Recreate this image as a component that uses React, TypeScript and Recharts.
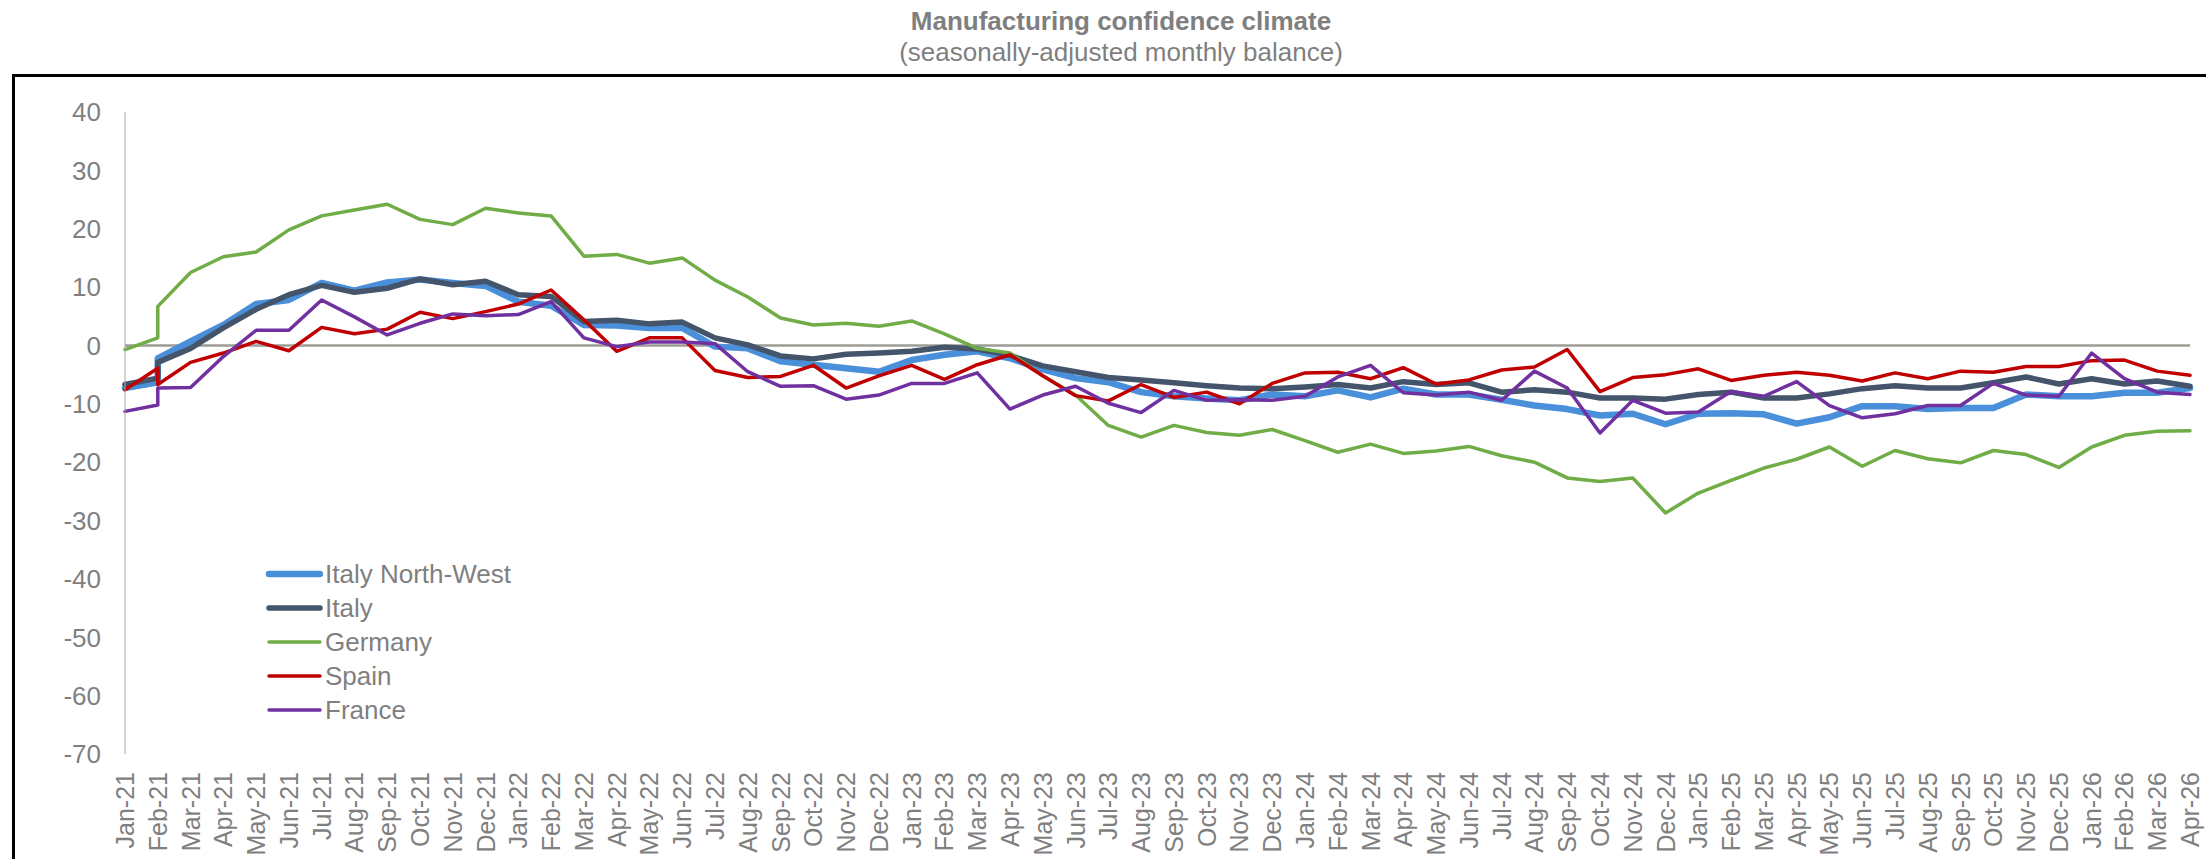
import React from "react";
import { LineChart, Line, XAxis, YAxis, ReferenceLine } from "recharts";

// month labels, Jan-21 .. Apr-26
const months = [
  "Jan-21", "Feb-21", "Mar-21", "Apr-21", "May-21", "Jun-21", "Jul-21", "Aug-21", "Sep-21", "Oct-21", "Nov-21", "Dec-21",
  "Jan-22", "Feb-22", "Mar-22", "Apr-22", "May-22", "Jun-22", "Jul-22", "Aug-22", "Sep-22", "Oct-22", "Nov-22", "Dec-22",
  "Jan-23", "Feb-23", "Mar-23", "Apr-23", "May-23", "Jun-23", "Jul-23", "Aug-23", "Sep-23", "Oct-23", "Nov-23", "Dec-23",
  "Jan-24", "Feb-24", "Mar-24", "Apr-24", "May-24", "Jun-24", "Jul-24", "Aug-24", "Sep-24", "Oct-24", "Nov-24", "Dec-24",
  "Jan-25", "Feb-25", "Mar-25", "Apr-25", "May-25", "Jun-25", "Jul-25", "Aug-25", "Sep-25", "Oct-25", "Nov-25", "Dec-25",
  "Jan-26", "Feb-26", "Mar-26", "Apr-26",
];

const italyNW = [
  -7.3, -2.2, 0.7, 3.5, 7.1, 7.8, 10.7, 9.4, 10.8, 11.3, 10.7, 10.2,
  7.5, 6.8, 3.5, 3.4, 3, 3, -0.2, -0.5, -2.7, -3.3, -3.9, -4.5,
  -2.5, -1.6, -1, -2.2, -4.1, -5.6, -6.3, -8, -8.7, -9.1, -9.4, -8.4,
  -8.7, -7.7, -8.9, -7.4, -8.4, -8.4, -9.3, -10.3, -10.9, -12, -11.7, -13.5,
  -11.7, -11.6, -11.8, -13.4, -12.3, -10.4, -10.4, -10.9, -10.7, -10.7, -8.4, -8.7,
  -8.7, -8.1, -8.1, -7.3,
];

const italy = [
  -6.7, -2.9, -0.5, 3, 6.2, 8.7, 10.3, 9.1, 9.8, 11.4, 10.4, 11,
  8.7, 8.4, 4.1, 4.3, 3.7, 4, 1.3, 0.1, -1.8, -2.3, -1.5, -1.3,
  -1, -0.3, -0.6, -1.7, -3.5, -4.5, -5.5, -5.9, -6.4, -6.9, -7.3, -7.4,
  -7.1, -6.7, -7.3, -6.2, -6.7, -6.4, -8, -7.6, -8, -9, -9, -9.2,
  -8.4, -8, -9, -9, -8.3, -7.4, -6.9, -7.3, -7.3, -6.4, -5.4, -6.6,
  -5.7, -6.6, -6.1, -7,
];

const germany = [
  -0.7, 6.7, 12.5, 15.2, 16, 19.8, 22.2, 23.2, 24.2, 21.6, 20.7, 23.5,
  22.7, 22.2, 15.3, 15.6, 14.1, 15, 11.2, 8.3, 4.7, 3.5, 3.8, 3.3,
  4.2, 2, -0.5, -1.3, -5.2, -8.5, -13.7, -15.7, -13.7, -14.9, -15.4, -14.4,
  -16.3, -18.3, -16.9, -18.5, -18.1, -17.3, -18.9, -20, -22.7, -23.3, -22.7, -28.7,
  -25.3, -23.1, -21, -19.5, -17.4, -20.7, -18, -19.4, -20.1, -18, -18.7, -20.9,
  -17.4, -15.4, -14.7, -14.6,
];

const spain = [
  -7.6, -6.7, -2.9, -1.3, 0.7, -0.9, 3.1, 2, 2.8, 5.7, 4.6, 5.8,
  7.1, 9.5, 4.4, -1, 1.3, 1.3, -4.3, -5.5, -5.3, -3.4, -7.3, -5.2,
  -3.4, -5.8, -3.3, -1.6, -5.2, -8.6, -9.5, -6.7, -8.9, -8, -10, -6.5,
  -4.7, -4.6, -5.7, -3.8, -6.6, -5.9, -4.2, -3.7, -0.7, -7.9, -5.5, -5,
  -4, -6, -5.1, -4.6, -5.1, -6.1, -4.7, -5.7, -4.4, -4.6, -3.6, -3.6,
  -2.6, -2.5, -4.4, -5.1,
];

const france = [
  -11.3, -7.3, -7.2, -1.9, 2.6, 2.6, 7.8, 4.9, 1.8, 3.8, 5.4, 5.1,
  5.3, 7.5, 1.3, -0.2, 0.6, 0.6, 0.3, -4.5, -7, -6.9, -9.2, -8.5,
  -6.5, -6.5, -4.7, -10.9, -8.5, -7, -9.9, -11.5, -7.7, -9.4, -9.3, -9.4,
  -8.7, -5.4, -3.4, -8.1, -8.5, -8, -9.4, -4.4, -7.3, -15, -9.4, -11.6,
  -11.4, -7.9, -8.7, -6.2, -10.3, -12.4, -11.7, -10.3, -10.3, -6.5, -8.5, -8.7,
  -1.3, -5.7, -8, -8.4,
];

// Feb-21 values before the series break (drawn as a vertical step)
const feb21Prior = { nw: -6.3, it: -5.6, de: 1.3, es: -3.9, fr: -10.2 };

const yTicks = [-70, -60, -50, -40, -30, -20, -10, 0, 10, 20, 30, 40];

const series = [
  { key: "nw", name: "Italy North-West", color: "#4a8fd9", width: 6.5 },
  { key: "it", name: "Italy", color: "#44546a", width: 5.5 },
  { key: "de", name: "Germany", color: "#70ad47", width: 3.5 },
  { key: "es", name: "Spain", color: "#c00000", width: 3.5 },
  { key: "fr", name: "France", color: "#7030a0", width: 3.5 },
];

const rows: any[] = months.map((m, i) => ({
  t: i,
  nw: italyNW[i],
  it: italy[i],
  de: germany[i],
  es: spain[i],
  fr: france[i],
}));
rows.splice(1, 0, { t: 1, ...feb21Prior });

const tickIdx = months.map((_, i) => i);

const FONT = "'Liberation Sans', Arial, sans-serif";
const GREY = "#7f7f7f";

function MonthTick(props: any) {
  const { x, y, payload } = props;
  return (
    <text
      x={x}
      y={y}
      transform={`rotate(-90 ${x} ${y})`}
      textAnchor="end"
      dy="0.36em"
      fill={GREY}
      fontSize={25}
      fontFamily={FONT}
    >
      {months[payload.value]}
    </text>
  );
}

function SeriesLegend() {
  return (
    <div
      style={{
        position: "absolute",
        left: 265,
        top: 557,
        fontFamily: FONT,
        fontSize: 26,
        color: GREY,
      }}
    >
      {series.map((s) => (
        <div key={s.key} style={{ display: "flex", alignItems: "center", height: 34 }}>
          <svg width={58} height={34}>
            <line
              x1={4}
              x2={55}
              y1={17}
              y2={17}
              stroke={s.color}
              strokeWidth={s.width}
              strokeLinecap="round"
            />
          </svg>
          <span style={{ marginLeft: 2, lineHeight: "34px" }}>{s.name}</span>
        </div>
      ))}
    </div>
  );
}

export default function App() {
  return (
    <div
      style={{
        position: "absolute",
        left: 0,
        top: 0,
        width: 2206,
        height: 859,
        overflow: "hidden",
        background: "#fff",
        fontFamily: FONT,
      }}
    >
      <div
        style={{
          position: "absolute",
          left: 0,
          top: 6,
          width: 2242,
          textAlign: "center",
          color: GREY,
          fontSize: 26,
          fontWeight: "bold",
          lineHeight: "30px",
        }}
      >
        Manufacturing confidence climate
      </div>
      <div
        style={{
          position: "absolute",
          left: 0,
          top: 37,
          width: 2242,
          textAlign: "center",
          color: GREY,
          fontSize: 26,
          lineHeight: "30px",
        }}
      >
        (seasonally-adjusted monthly balance)
      </div>
      <div
        style={{
          position: "absolute",
          left: 12,
          top: 74,
          width: 2400,
          height: 1000,
          border: "3px solid #000",
        }}
      />
      <div style={{ position: "absolute", left: 0, top: 0 }}>
        <LineChart
          width={2206}
          height={859}
          data={rows}
          margin={{ top: 112, right: 16, bottom: 0, left: 0 }}
        >
          <XAxis
            dataKey="t"
            type="number"
            domain={[0, 63]}
            ticks={tickIdx}
            interval={0}
            axisLine={false}
            tickLine={false}
            tickSize={0}
            tickMargin={18}
            height={105}
            tick={<MonthTick />}
          />
          <YAxis
            type="number"
            domain={[-70, 40]}
            ticks={yTicks}
            interval={0}
            width={125}
            axisLine={{ stroke: "#a6a6a6", strokeWidth: 1 }}
            tickLine={false}
            tickSize={0}
            tickMargin={24}
            tick={{ fill: GREY, fontSize: 26, fontFamily: FONT }}
          />
          <ReferenceLine y={0} stroke="#9d9d95" strokeWidth={2.5} />
          {series.map((s) => (
            <Line
              key={s.key}
              type="linear"
              dataKey={s.key}
              name={s.name}
              stroke={s.color}
              strokeWidth={s.width}
              strokeLinejoin="round"
              strokeLinecap="round"
              dot={false}
              activeDot={false}
              isAnimationActive={false}
            />
          ))}
        </LineChart>
      </div>
      <SeriesLegend />
    </div>
  );
}
